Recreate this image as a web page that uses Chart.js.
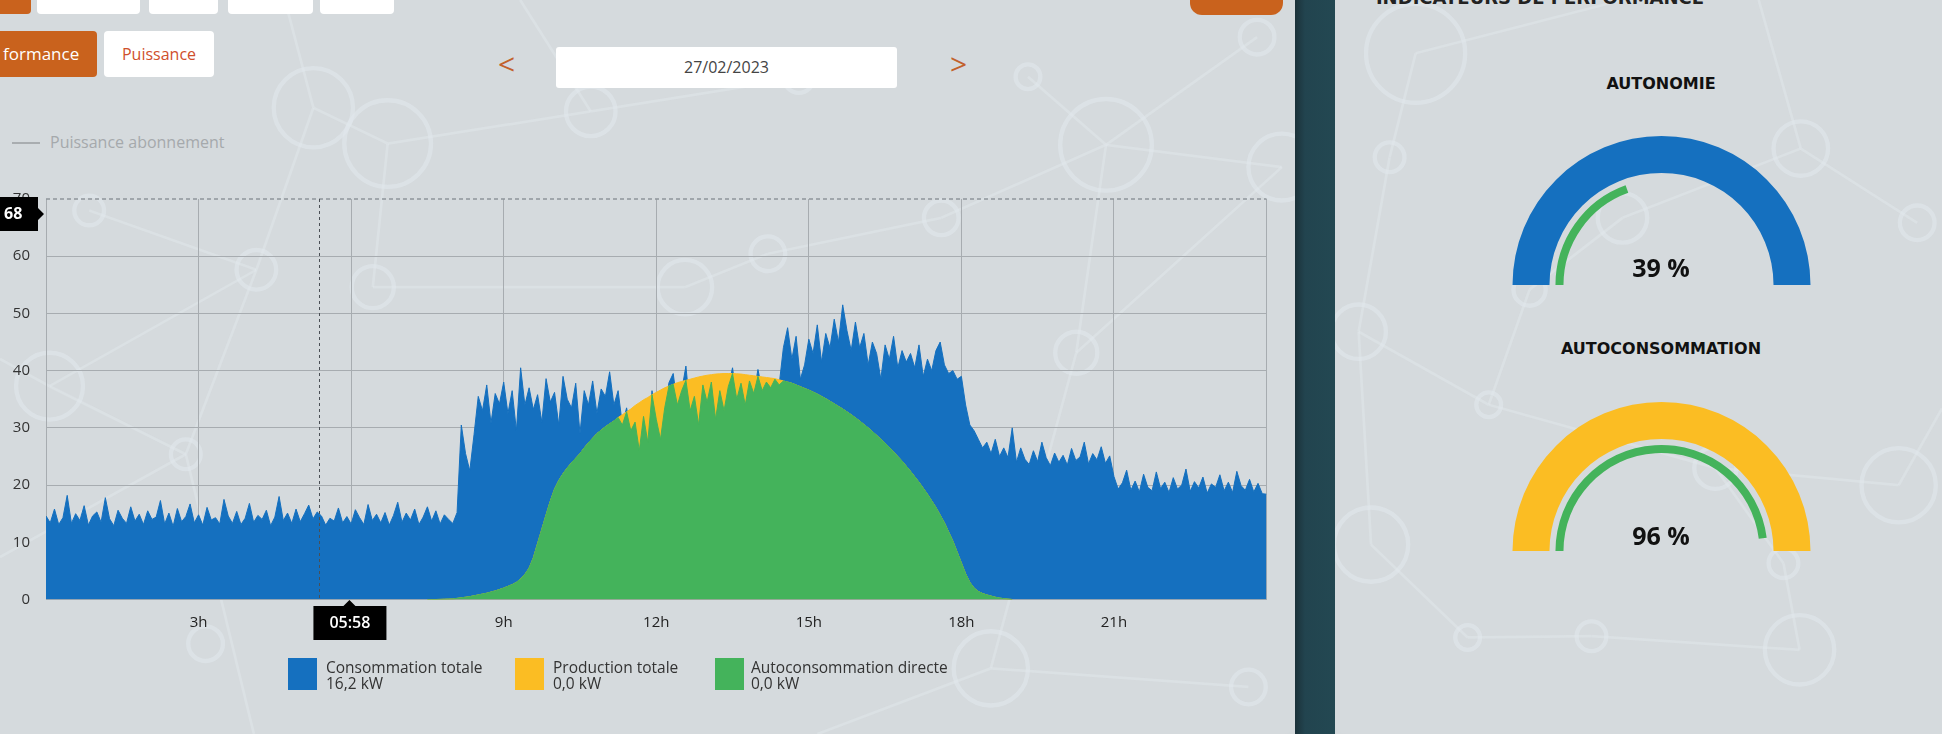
<!DOCTYPE html>
<html lang="fr">
<head>
<meta charset="utf-8">
<title>Puissance 27/02/2023</title>
<script src="https://cdn.jsdelivr.net/npm/chart.js@4.4.1/dist/chart.umd.min.js"></script>
<style>
  body { margin: 0; width: 1942px; height: 734px; position: relative; overflow: hidden; background: #d4d9dc; font-family: "Open Sans", sans-serif; }
  .panel { position: absolute; top: 0; height: 734px; background: #d5dadd; overflow: hidden; }
  #leftPanel { left: 0; width: 1295px; border-bottom-right-radius: 12px; }
  #rightPanel { left: 1335px; width: 607px; border-bottom-left-radius: 12px; }
  #sep { position: absolute; left: 1295px; top: 0; width: 40px; height: 734px; background: linear-gradient(90deg, #1b3139 0%, #22444f 25%, #234852 100%); }
  #deco { position: absolute; left: 0; top: 0; width: 1942px; height: 734px; }
  .abs { position: absolute; }
  .tab { position: absolute; top: 0; height: 14px; background: #fff; border-radius: 0 0 4px 4px; }
  .btn { position: absolute; top: 31px; height: 46px; line-height: 46px; border-radius: 4px; font-size: 16px; }
  .chev { position: absolute; top: 44px; font-size: 30px; color: #c2612b; line-height: 40px; }
  .leg { position: absolute; top: 658px; height: 32px; }
  .leg .sq { position: absolute; left: 0; top: 0; width: 29px; height: 32px; }
  .leg .txt { position: absolute; top: 1px; font-size: 15.5px; line-height: 16px; color: #333; white-space: nowrap; }
  .gtitle { position: absolute; width: 400px; left: 1461px; text-align: center; font-family: "DejaVu Sans", sans-serif; font-weight: bold; font-size: 16px; color: #111; }
  .gval { position: absolute; width: 200px; left: 1561px; text-align: center; font-weight: 700; font-size: 25px; color: #111; }
  canvas { position: absolute; }
</style>
</head>
<body>
<div id="leftPanel" class="panel"></div>
<div id="rightPanel" class="panel"></div>
<svg id="deco" viewBox="0 0 1568 593" preserveAspectRatio="none">
  <g fill="none" stroke="#e1e8ec" stroke-opacity="0.5" stroke-width="2.2">
    <line x1="253" y1="87" x2="313" y2="116"/><line x1="253" y1="87" x2="207" y2="218"/>
    <line x1="207" y1="218" x2="150" y2="367"/><line x1="207" y1="218" x2="40" y2="312"/>
    <line x1="40" y1="312" x2="150" y2="367"/><line x1="72" y1="170" x2="207" y2="218"/>
    <line x1="313" y1="116" x2="301" y2="232"/><line x1="313" y1="116" x2="477" y2="90"/>
    <line x1="477" y1="90" x2="645" y2="63"/><line x1="301" y1="232" x2="553" y2="232"/>
    <line x1="553" y1="232" x2="620" y2="205"/><line x1="620" y1="205" x2="760" y2="176"/>
    <line x1="760" y1="176" x2="893" y2="117"/><line x1="893" y1="117" x2="1015" y2="30"/>
    <line x1="893" y1="117" x2="1035" y2="135"/><line x1="893" y1="117" x2="869" y2="285"/>
    <line x1="830" y1="62" x2="893" y2="117"/><line x1="869" y1="285" x2="1035" y2="135"/>
    <line x1="150" y1="367" x2="0" y2="450"/><line x1="800" y1="540" x2="660" y2="593"/>
    <line x1="800" y1="540" x2="1008" y2="555"/><line x1="869" y1="285" x2="800" y2="540"/>
    <line x1="253" y1="87" x2="230" y2="0"/><line x1="477" y1="90" x2="420" y2="0"/>
    <line x1="40" y1="312" x2="0" y2="290"/><line x1="150" y1="367" x2="205" y2="593"/>
    <line x1="1143" y1="43" x2="1122" y2="127"/><line x1="1122" y1="127" x2="1097" y2="268"/>
    <line x1="1097" y1="268" x2="1202" y2="327"/><line x1="1202" y1="327" x2="1235" y2="234"/>
    <line x1="1235" y1="234" x2="1310" y2="176"/><line x1="1310" y1="176" x2="1454" y2="120"/>
    <line x1="1454" y1="120" x2="1548" y2="180"/><line x1="1202" y1="327" x2="1385" y2="378"/>
    <line x1="1385" y1="378" x2="1533" y2="392"/><line x1="1107" y1="440" x2="1185" y2="515"/>
    <line x1="1185" y1="515" x2="1285" y2="514"/><line x1="1285" y1="514" x2="1453" y2="525"/>
    <line x1="1440" y1="455" x2="1453" y2="525"/><line x1="1385" y1="378" x2="1440" y2="455"/>
    <line x1="1097" y1="268" x2="1107" y2="440"/><line x1="1143" y1="43" x2="1310" y2="0"/>
    <line x1="1454" y1="120" x2="1420" y2="0"/><line x1="1533" y1="392" x2="1568" y2="330"/>
  </g>
  <g fill="none" stroke="#e1e8ec" stroke-opacity="0.6" stroke-width="3.5">
    <circle cx="253" cy="87" r="32"/><circle cx="313" cy="116" r="35"/><circle cx="477" cy="90" r="20"/>
    <circle cx="553" cy="232" r="22"/><circle cx="645" cy="63" r="12"/><circle cx="830" cy="62" r="10"/>
    <circle cx="893" cy="117" r="37"/><circle cx="1015" cy="30" r="14"/><circle cx="1035" cy="135" r="27"/>
    <circle cx="72" cy="170" r="12"/><circle cx="40" cy="312" r="27"/><circle cx="150" cy="367" r="12"/>
    <circle cx="207" cy="218" r="16"/><circle cx="301" cy="232" r="17"/><circle cx="620" cy="205" r="14"/>
    <circle cx="760" cy="176" r="14"/><circle cx="869" cy="285" r="17"/><circle cx="800" cy="540" r="30"/>
    <circle cx="1008" cy="555" r="14"/><circle cx="166" cy="520" r="14"/>
    <circle cx="1143" cy="43" r="40"/><circle cx="1122" cy="127" r="12"/><circle cx="1097" cy="268" r="22"/>
    <circle cx="1202" cy="327" r="10"/><circle cx="1235" cy="234" r="13"/><circle cx="1310" cy="176" r="20"/>
    <circle cx="1454" cy="120" r="22"/><circle cx="1548" cy="180" r="14"/><circle cx="1385" cy="378" r="17"/>
    <circle cx="1533" cy="392" r="30"/><circle cx="1107" cy="440" r="30"/><circle cx="1185" cy="515" r="10"/>
    <circle cx="1285" cy="514" r="12"/><circle cx="1453" cy="525" r="28"/><circle cx="1440" cy="455" r="12"/>
  </g>
</svg>
<div id="sep"></div>

<!-- top controls -->
<div class="tab" style="left:0;width:31px;background:#c9621d;border-radius:0 0 4px 0"></div>
<div class="tab" style="left:37px;width:103px"></div>
<div class="tab" style="left:149px;width:69px"></div>
<div class="tab" style="left:228px;width:85px"></div>
<div class="tab" style="left:320px;width:74px"></div>
<div class="abs" style="left:1190px;top:0;width:93px;height:15px;background:#c9621d;border-radius:0 0 12px 12px"></div>
<div class="btn" style="left:0;width:97px;background:#c9621d;color:#fff;font-size:17px;border-radius:0 4px 4px 0;text-indent:3px">formance</div>
<div class="btn" style="left:104px;width:110px;background:#fff;color:#cf4f2c;text-align:center">Puissance</div>
<div class="chev" style="left:498px">&lt;</div>
<div class="abs" style="left:556px;top:47px;width:341px;height:41px;line-height:41px;background:#fff;border-radius:3px;text-align:center;font-size:16px;color:#444">27/02/2023</div>
<div class="chev" style="left:950px">&gt;</div>
<div class="abs" style="left:12px;top:142px;width:28px;height:2px;background:#a9adb0"></div>
<div class="abs" style="left:50px;top:131px;font-size:16px;color:#a5a9ac">Puissance abonnement</div>

<canvas id="powerChart" width="1282" height="486" style="left:0;top:174px"></canvas>

<div class="leg" style="left:288px"><div class="sq" style="background:#1570bf"></div><div class="txt" style="left:38px">Consommation totale<br>16,2 kW</div></div>
<div class="leg" style="left:515px"><div class="sq" style="background:#fbbd23"></div><div class="txt" style="left:38px">Production totale<br>0,0 kW</div></div>
<div class="leg" style="left:715px"><div class="sq" style="background:#44b35b"></div><div class="txt" style="left:36px">Autoconsommation directe<br>0,0 kW</div></div>

<!-- right panel -->
<div class="abs" style="left:1340px;top:-12px;width:400px;text-align:center;font-family:'DejaVu Sans',sans-serif;font-weight:bold;font-size:18px;line-height:20px;color:#222">INDICATEURS DE PERFORMANCE</div>
<div class="gtitle" style="top:74px">AUTONOMIE</div>
<canvas id="gaugeAutonomie" width="299" height="149" style="left:1512px;top:136px"></canvas>
<div class="gval" id="valAutonomie" style="top:250px"></div>
<div class="gtitle" style="top:339px">AUTOCONSOMMATION</div>
<canvas id="gaugeAutoconso" width="299" height="149" style="left:1512px;top:402px"></canvas>
<div class="gval" id="valAutoconso" style="top:518px"></div>

<script>
  // 5-minute samples, 00:00 -> 24:00 (kW)
  const consommationTotale = [
    14.6, 13.4, 15.8, 13.1, 14.3, 18.2, 13.3, 15.0, 13.8, 16.4, 13.0, 14.6,
    15.3, 13.5, 17.8, 14.1, 12.9, 15.6, 14.2, 13.3, 16.2, 13.7, 14.9, 13.1,
    15.5, 14.0, 14.4, 17.3, 13.2, 15.1, 12.8, 15.9, 13.6, 14.5, 16.7, 13.4,
    14.8, 13.0, 16.1, 13.9, 14.3, 13.2, 17.5, 14.6, 13.3, 15.4, 13.1, 14.2,
    16.8, 13.5, 14.7, 14.0, 15.6, 12.9, 14.4, 18.0, 13.8, 15.1, 13.3, 15.8,
    13.6, 15.0, 16.5, 14.1, 15.3, 14.6, 13.0, 14.2, 13.7, 16.0, 13.4, 14.5,
    13.2, 15.7, 14.3, 13.1, 16.6, 13.8, 14.9, 13.4, 15.2, 13.0, 14.7, 17.0,
    13.5, 15.1, 13.9, 15.8, 13.1, 14.4, 16.2, 13.7, 15.5, 13.2, 14.8, 14.0,
    13.3, 15.2, 30.5, 25.5, 22.5, 28.8, 35.5, 33, 37.5, 30.8, 36, 34.2,
    38, 32.5, 36.5, 29.5, 40.5, 34, 37, 33.2, 35.8, 31, 38.6, 34.5,
    36.2, 30.5, 39, 35, 33.5, 37.8, 29, 36.5, 34, 38.2, 32.5, 36.8,
    35.5, 39.8, 34, 36.5, 30.5, 33.5, 29.5, 31, 26, 32, 27.5, 36.5,
    31.5, 28, 33.5, 37.9, 39.5, 34, 36.5, 40.8, 33, 35.5, 30.5, 37.5,
    34.5, 38, 31.5, 36.5, 33, 37.2, 40.5, 35, 37.8, 34, 38.2, 36,
    40.2, 36.5, 38, 37, 38.5, 37.5, 44, 47.5, 42, 46, 38.5, 41,
    45.5, 43, 48, 41.5, 46.5, 44, 49, 45, 51.5, 47, 43.5, 48.5,
    44, 46.5, 41, 45, 43, 38.5, 44.5, 42, 46, 40.5, 43.5, 41.5,
    43, 40.5, 44.5, 39, 42, 40, 43.5, 45, 41, 39.5, 40, 38.5,
    39, 34, 30.5, 29.5, 28, 26.5, 27.5, 25.5, 28, 25, 26.5, 24.8,
    30, 24, 26.5, 24.5, 23.6, 26, 24.1, 27.5, 24.8, 23.4, 25.6, 24,
    25.2, 23.5, 26.4, 24.3, 24.9, 27.5, 23.7, 25.5, 24.4, 26.7, 23.8, 25.1,
    21.5, 19.3, 20.4, 22.6, 19.1, 20.7, 18.8, 21.9, 19.6, 19.0, 22.3, 19.4,
    20.5, 18.7, 21.3, 19.3, 20.0, 22.8, 18.9, 20.6, 19.5, 21.4, 18.6, 20.2,
    19.6, 21.8, 19.0, 20.5, 18.7, 22.4, 19.9, 19.1, 21.0, 18.8, 20.3, 18.5,
    18.4,
  ];

  // 5-minute samples, 07:30 -> 19:00 (kW)
  const solarStart = 7.5;
  const productionTotale = [
    0, 0, 0, 0.02, 0.05, 0.08,
    0.1, 0.2, 0.3, 0.4, 0.5, 0.65, 0.8, 0.95, 1.1, 1.3, 1.5, 1.75,
    2.0, 2.3, 2.6, 3.0, 3.6, 4.4, 5.5, 7.3, 9.8, 12.3, 14.8, 17.2,
    19.3, 20.8, 22, 23, 23.9, 24.7, 25.5, 26.5, 27.4, 28.2, 29, 29.6,
    30.2, 30.7, 31.2, 31.8, 32.3, 32.8, 33.3, 33.9, 34.4, 34.9, 35.3, 35.8,
    36.2, 36.6, 37, 37.3, 37.6, 37.9, 38.1, 38.3, 38.5, 38.7, 38.9, 39.05,
    39.2, 39.3, 39.4, 39.45, 39.5, 39.5, 39.5, 39.45, 39.4, 39.3, 39.2, 39.1,
    39, 38.9, 38.8, 38.7, 38.6, 38.4, 38.2, 38, 37.8, 37.5, 37.2, 36.9,
    36.6, 36.25, 35.9, 35.5, 35.1, 34.65, 34.2, 33.75, 33.3, 32.8, 32.3, 31.75,
    31.2, 30.6, 30, 29.35, 28.7, 28, 27.3, 26.55, 25.8, 25, 24.2, 23.3,
    22.4, 21.45, 20.5, 19.45, 18.4, 17.25, 16.1, 14.75, 13.4, 11.8, 10.2, 8.3,
    6.4, 4.5, 3, 2, 1.4, 1.05, 0.8, 0.6, 0.4, 0.25, 0.15, 0.07,
    0,
  ];

  const autoconsommationDirecte = [
    0, 0, 0, 0.02, 0.05, 0.08,
    0.1, 0.2, 0.3, 0.4, 0.5, 0.65, 0.8, 0.95, 1.1, 1.3, 1.5, 1.75,
    2.0, 2.3, 2.6, 3.0, 3.6, 4.4, 5.5, 7.3, 9.8, 12.3, 14.8, 17.2,
    19.3, 20.8, 22, 23, 23.9, 24.7, 25.5, 26.5, 27.4, 28.2, 29, 29.6,
    30.2, 30.7, 31.2, 31.8, 30.5, 32.8, 29.5, 31, 26, 32, 27.5, 35.8,
    31.5, 28, 33.5, 37.3, 37.6, 34, 36.5, 38.3, 33, 35.5, 30.5, 37.5,
    34.5, 38, 31.5, 36.5, 33, 37.2, 39.5, 35, 37.8, 34, 38.2, 36,
    39, 36.5, 38, 37, 38.5, 37.5, 38.2, 38, 37.8, 37.5, 37.2, 36.9,
    36.6, 36.25, 35.9, 35.5, 35.1, 34.65, 34.2, 33.75, 33.3, 32.8, 32.3, 31.75,
    31.2, 30.6, 30, 29.35, 28.7, 28, 27.3, 26.55, 25.8, 25, 24.2, 23.3,
    22.4, 21.45, 20.5, 19.45, 18.4, 17.25, 16.1, 14.75, 13.4, 11.8, 10.2, 8.3,
    6.4, 4.5, 3, 2, 1.4, 1.05, 0.8, 0.6, 0.4, 0.25, 0.15, 0.07,
    0,
  ];

  const puissanceAbonnement = 70;
  const hourTicks = [0, 3, 6, 9, 12, 15, 18, 21, 24];
  const hourLabels = ["", "3h", "6h", "9h", "12h", "15h", "18h", "21h", ""];
  const powerTicks = [0, 10, 20, 30, 40, 50, 60, 70];

  // cursor shown on the screenshot
  const cursorLineHour = 5.36;
  const cursorTimeHour = 5 + 58 / 60;
  const cursorTimeLabel = "05:58";
  const cursorPower = 67.4;
  const cursorPowerLabel = "68";

  const autonomie = 39;
  const autoconso = 96;

  const STEP = 5 / 60;
  const toPoints = (arr, start) => arr.map((y, i) => ({ x: start + i * STEP, y: y }));

  Chart.defaults.font.family = "'Open Sans', sans-serif";

  const cursorPlugin = {
    id: "cursor",
    afterDatasetsDraw(chart) {
      const { ctx, chartArea, scales } = chart;
      const x = Math.round(scales.x.getPixelForValue(cursorLineHour)) + 0.5;
      ctx.save();
      ctx.strokeStyle = "#4a4f55";
      ctx.lineWidth = 1;
      ctx.setLineDash([3, 3]);
      ctx.beginPath();
      ctx.moveTo(x, chartArea.top);
      ctx.lineTo(x, chartArea.bottom);
      ctx.stroke();
      ctx.restore();
    },
    afterDraw(chart) {
      const { ctx, chartArea, scales } = chart;
      ctx.save();
      ctx.fillStyle = "#000";
      // time label under the x axis
      const tx = scales.x.getPixelForValue(cursorTimeHour);
      const ty = chartArea.bottom + 6.5;
      ctx.beginPath();
      ctx.moveTo(tx - 36, ty);
      ctx.lineTo(tx - 6, ty);
      ctx.lineTo(tx, ty - 6);
      ctx.lineTo(tx + 6, ty);
      ctx.lineTo(tx + 37, ty);
      ctx.lineTo(tx + 37, ty + 34);
      ctx.lineTo(tx - 36, ty + 34);
      ctx.closePath();
      ctx.fill();
      // power label on the y axis
      const py = scales.y.getPixelForValue(cursorPower);
      ctx.beginPath();
      ctx.moveTo(0, py - 17);
      ctx.lineTo(38, py - 17);
      ctx.lineTo(38, py - 6);
      ctx.lineTo(44, py);
      ctx.lineTo(38, py + 6);
      ctx.lineTo(38, py + 17);
      ctx.lineTo(0, py + 17);
      ctx.closePath();
      ctx.fill();
      ctx.fillStyle = "#fff";
      ctx.font = "600 16px 'Open Sans', sans-serif";
      ctx.textBaseline = "middle";
      ctx.textAlign = "center";
      ctx.fillText(cursorTimeLabel, tx + 0.5, ty + 17);
      ctx.textAlign = "left";
      ctx.font = "700 16px 'Open Sans', sans-serif";
      ctx.fillText(cursorPowerLabel, 4, py + 1);
      ctx.restore();
    },
  };

  const powerCtx = document.getElementById("powerChart");

  const powerChart = new Chart(powerCtx, {
    type: "line",
    data: {
      datasets: [
        {
          label: "Puissance abonnement",
          data: [{ x: 0, y: puissanceAbonnement }, { x: 24, y: puissanceAbonnement }],
          borderColor: "#8f959a",
          borderWidth: 1.5,
          borderDash: [4, 3],
          fill: false,
          clip: 4,
          order: 0,
        },
        {
          label: "Autoconsommation directe",
          data: toPoints(autoconsommationDirecte, solarStart),
          borderColor: "#44b35b",
          backgroundColor: "#44b35b",
          borderWidth: 1,
          fill: "origin",
          order: 1,
        },
        {
          label: "Production totale",
          data: toPoints(productionTotale, solarStart),
          borderColor: "#fbbd23",
          backgroundColor: "#fbbd23",
          borderWidth: 1,
          fill: "origin",
          order: 2,
        },
        {
          label: "Consommation totale",
          data: toPoints(consommationTotale, 0),
          borderColor: "#1570bf",
          backgroundColor: "#1570bf",
          borderWidth: 1,
          fill: "origin",
          order: 3,
        },
      ],
    },
    options: {
      responsive: false,
      animation: false,
      events: [],
      layout: {
        padding: { top: 12, right: 15.5, left: 0, bottom: 0 },
      },
      elements: {
        point: { radius: 0 },
        line: { tension: 0 },
      },
      scales: {
        x: {
          type: "linear",
          min: 0,
          max: 24,
          afterBuildTicks: (axis) => {
            axis.ticks = hourTicks.map((v) => ({ value: v }));
          },
          afterFit: (axis) => {
            axis.height = 60.5;
          },
          grid: {
            color: "#a7acb0",
            drawTicks: false,
          },
          border: { display: false },
          ticks: {
            autoSkip: false,
            maxRotation: 0,
            padding: 14,
            color: "#222",
            font: { size: 15 },
            callback: (v) => hourLabels[hourTicks.indexOf(v)] ?? "",
          },
        },
        y: {
          min: 0,
          max: 70,
          afterBuildTicks: (axis) => {
            axis.ticks = powerTicks.map((v) => ({ value: v }));
          },
          afterFit: (axis) => {
            axis.width = 46;
          },
          grid: {
            color: (c) => (c.tick && c.tick.value === 70 ? "rgba(0,0,0,0)" : "#a7acb0"),
            drawTicks: false,
          },
          border: { display: true, color: "#a7acb0" },
          ticks: {
            padding: 16,
            color: "#333",
            font: { size: 15 },
          },
        },
      },
      plugins: {
        legend: { display: false },
        tooltip: { enabled: false },
      },
    },
    plugins: [cursorPlugin],
  });

  function gauge(id, value, ringColor) {
    return new Chart(document.getElementById(id), {
      type: "doughnut",
      data: {
        datasets: [
          { data: [100], backgroundColor: [ringColor], weight: 37 },
          { data: [100], backgroundColor: ["rgba(0,0,0,0)"], weight: 6 },
          { data: [value, 100 - value], backgroundColor: ["#44b35b", "rgba(0,0,0,0)"], weight: 8 },
        ],
      },
      options: {
        responsive: false,
        animation: false,
        events: [],
        rotation: -90,
        circumference: 180,
        cutout: "65.8%",
        borderWidth: 0,
        plugins: {
          legend: { display: false },
          tooltip: { enabled: false },
        },
      },
    });
  }

  const gaugeOne = gauge("gaugeAutonomie", autonomie, "#1570bf");
  const gaugeTwo = gauge("gaugeAutoconso", autoconso, "#fbbd23");
  document.getElementById("valAutonomie").textContent = autonomie + " %";
  document.getElementById("valAutoconso").textContent = autoconso + " %";
</script>
</body>
</html>
